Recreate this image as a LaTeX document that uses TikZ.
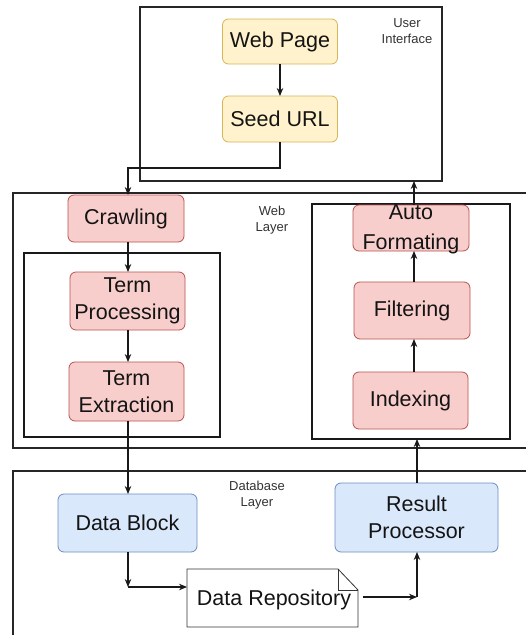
\documentclass[tikz,border=0pt]{standalone}
\usepackage{fontspec}
\setmainfont{Liberation Sans}
\usetikzlibrary{arrows.meta,shapes.misc}

\definecolor{yfill}{HTML}{FFF2CC}
\definecolor{yline}{HTML}{D6B656}
\definecolor{rfill}{HTML}{F8CECC}
\definecolor{rline}{HTML}{B85450}
\definecolor{bfill}{HTML}{DAE8FC}
\definecolor{bline}{HTML}{6C8EBF}
\definecolor{labelgray}{HTML}{333333}

\tikzset{
  every node/.style={inner sep=0pt, outer sep=0pt},
  proc/.style={rounded corners=6pt, draw, line width=0.8pt, align=center,
    text=black!92, font=\fontsize{21.5}{27}\selectfont},
  yproc/.style={proc, fill=yfill, draw=yline},
  rproc/.style={proc, fill=rfill, draw=rline},
  bproc/.style={proc, fill=bfill, draw=bline},
  layer/.style={draw=black!85, line width=1.3pt},
  group/.style={draw=black!90, line width=1.1pt},
  layerlabel/.style={align=center, text=labelgray, font=\fontsize{13}{16}\selectfont},
  flow/.style={draw=black!90, line width=1.1pt, -{Stealth[length=8pt,width=6.5pt]}},
}

\begin{document}
\begin{tikzpicture}[x=1pt,y=-1pt]
\useasboundingbox (0,0) rectangle (526,635);
\fill[white] (0,0) rectangle (526,635);
\clip (0,0) rectangle (526,635);

% layer frames
\node[layer, minimum width=302pt, minimum height=174pt] (ui) at (291,94) {};
\node[layer, minimum width=530pt, minimum height=255pt, anchor=north west] (web) at (13,193) {};
\node[layer, minimum width=530pt, minimum height=190pt, anchor=north west] (db) at (13,471) {};

% inner groups of the web layer
\node[group, minimum width=196pt, minimum height=184pt, anchor=north west] (left) at (24,253) {};
\node[group, minimum width=198pt, minimum height=235pt, anchor=north west] (right) at (312,204) {};

% layer captions
\node[layerlabel] (uilabel) at (407,31) {User\\Interface};
\node[layerlabel] (weblabel) at (272,220) {Web\\Layer};
\node[layerlabel] (dblabel) at (257,495) {Database\\Layer};

% user interface
\node[yproc, minimum width=115pt, minimum height=45pt] (page) at (280,41.5) {Web Page};
\node[yproc, minimum width=115pt, minimum height=46pt] (seed) at (280,119) {Seed URL};

% web layer, crawling side
\node[rproc, minimum width=116pt, minimum height=47pt] (crawl) at (126,218.5) {Crawling};
\node[rproc, minimum width=115pt, minimum height=58pt] (tproc) at (127.5,301) {Term\\Processing};
\node[rproc, minimum width=115pt, minimum height=59pt] (textr) at (126.5,391.5) {Term\\Extraction};

% web layer, result side
\node[rproc, minimum width=116pt, minimum height=46pt] (auto) at (411,228) {};
\node[align=center, text=black!92, font=\fontsize{21.5}{30}\selectfont] (autotext) at (411,229) {Auto\\Formating};
\node[rproc, minimum width=116pt, minimum height=57pt] (filt) at (412,310.5) {Filtering};
\node[rproc, minimum width=115pt, minimum height=57pt] (index) at (410.5,400.5) {Indexing};

% database layer
\node[bproc, minimum width=139pt, minimum height=58pt] (block) at (127.5,523) {Data Block};
\node[bproc, minimum width=163pt, minimum height=69pt] (result) at (416.5,517.5) {Result\\Processor};

% document shaped repository with folded corner
\node[minimum width=171pt, minimum height=58pt] (repo) at (272.5,598) {};
\draw[line width=0.8pt, draw=black!80, fill=white]
  (repo.north west) -- ([xshift=-20pt]repo.north east) -- ([yshift=-21pt]repo.north east)
  -- (repo.south east) -- (repo.south west) -- cycle;
\draw[line width=0.8pt, draw=black!80]
  ([xshift=-20pt]repo.north east) -- ([xshift=-20pt,yshift=-21pt]repo.north east) -- ([yshift=-21pt]repo.north east);
\node[font=\fontsize{21.5}{27}\selectfont, text=black!92] (repotext) at (274,600) {Data Repository};

% routing points
\coordinate (seedbend) at (280,168);
\coordinate (crawlin) at (128,168);
\coordinate (blockout) at (128,587);
\coordinate (repoin) at (187,587);
\coordinate (repoout) at (363,597);
\coordinate (resultin) at (417,597);
\coordinate (upx) at (414,0);

% connectors
\draw[flow] (page.south) -- (seed.north);
\draw[flow] (seed.south) -- (seedbend) -- (crawlin) -- (crawlin |- crawl.north);
\draw[flow] (crawl.south -| crawlin) -- (crawlin |- tproc.north);
\draw[flow] (tproc.south -| crawlin) -- (crawlin |- textr.north);
\draw[flow] (textr.south -| crawlin) -- (crawlin |- block.north);
\draw[flow] (block.south -| blockout) -- (blockout);
\draw[flow] (blockout) -- (repoin);
\draw[flow] (repoout) -- (resultin);
\draw[flow] (resultin) -- (resultin |- result.south);
\draw[flow] (result.north -| resultin) -- (resultin |- right.south);
\draw[flow] (index.north -| upx) -- (upx |- filt.south);
\draw[flow] (filt.north -| upx) -- (upx |- auto.south);
\draw[flow] (auto.north -| upx) -- (upx |- ui.south);
\end{tikzpicture}
\end{document}
